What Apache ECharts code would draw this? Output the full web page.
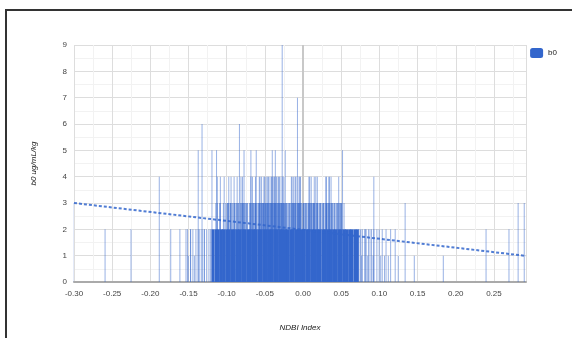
<!DOCTYPE html>
<html>
<head>
<meta charset="utf-8">
<script src="https://cdn.jsdelivr.net/npm/echarts@6/dist/echarts.min.js"></script>
<style>
html, body { margin: 0; padding: 0; background: #fff; }
#wrap { position: relative; width: 572px; height: 338px; overflow: hidden; }
#chart { width: 572px; height: 338px; }
#frame {
    position: absolute; left: 5px; top: 9px; width: 620px; height: 400px;
    border: 2px solid #333; pointer-events: none;
}
</style>
</head>
<body>
<div id="wrap">
    <div id="chart"></div>
    <div id="frame"></div>
</div>
<script>
// bars of the solid core (all at b0 = 2)
var coreX = [-0.118, -0.114, -0.111, -0.107, -0.104, -0.100, -0.097, -0.093, -0.090, -0.086,
    -0.083, -0.079, -0.076, -0.072, -0.069, -0.065, -0.062, -0.058, -0.055, -0.051,
    -0.048, -0.044, -0.041, -0.037, -0.034, -0.030, -0.027, -0.023, -0.020, -0.016,
    -0.013, -0.009, -0.006, -0.002, 0.001, 0.005, 0.008, 0.012, 0.015, 0.019,
    0.022, 0.026, 0.029, 0.033, 0.036, 0.040, 0.043, 0.047, 0.050, 0.054,
    0.057, 0.061, 0.064, 0.068, 0.071];

// close-packed bars at b0 = 3
var core3X = [-0.098, -0.094, -0.089, -0.085, -0.080, -0.077, -0.073, -0.068, -0.064, -0.061,
    -0.057, -0.054, -0.051, -0.048, -0.045, -0.042, -0.039, -0.036, -0.033, -0.030,
    -0.027, -0.024, -0.021, -0.017, -0.013, -0.010, -0.006, -0.003, 0.001, 0.004,
    0.008, 0.012, 0.015, 0.019, 0.023, 0.027, 0.031, 0.034, 0.038, 0.042, 0.046, 0.050];

// single bars, grouped by their b0 value
var x1 = [-0.149, -0.141, 0.062, 0.070, 0.078, 0.086, 0.093, 0.103, 0.108, 0.113, 0.126, 0.147, 0.185];
var x2 = [-0.258, -0.224, -0.172, -0.160, -0.152, -0.150, -0.146, -0.146, -0.143, -0.139, -0.136,
    -0.134, -0.131, -0.128, -0.128, -0.125, -0.122, -0.120,
    0.074, 0.076, 0.077, 0.079, 0.082, 0.083, 0.084, 0.087, 0.089,
    0.091, 0.094, 0.098, 0.101, 0.105, 0.110, 0.116, 0.122, 0.241, 0.271];
var x3 = [-0.300, -0.113, -0.111, -0.108, -0.107, -0.103, -0.100, -0.098, -0.096, -0.094,
    -0.091, -0.089, -0.086, -0.083, -0.081, -0.078, -0.076, -0.074, -0.072, -0.069,
    -0.067, -0.065, -0.063, -0.061, -0.058, -0.056, -0.054, -0.052, -0.051, -0.050,
    -0.048, -0.046, -0.045, -0.043, -0.041, -0.040, -0.038, -0.036, -0.035, -0.033,
    -0.031, -0.030, -0.028, -0.027, -0.025, -0.024, -0.022, -0.020, -0.018, -0.016,
    -0.014, -0.012, -0.011, -0.009, -0.007, -0.005, -0.004, -0.003, -0.001, 0.002,
    0.004, 0.006, 0.008, 0.010, 0.011, 0.013, 0.015, 0.016, 0.018, 0.020, 0.022,
    0.024, 0.026, 0.028, 0.030, 0.032, 0.034, 0.036, 0.038, 0.040, 0.042, 0.045,
    0.047, 0.049, 0.051, 0.052, 0.055, 0.135, 0.283, 0.291];
var x4 = [-0.187, -0.111, -0.107, -0.102, -0.096, -0.093, -0.089, -0.085, -0.080, -0.078,
    -0.067, -0.065, -0.061, -0.056, -0.055, -0.053, -0.050, -0.049, -0.047, -0.045,
    -0.044, -0.042, -0.040, -0.039, -0.037, -0.036, -0.034, -0.033, -0.031, -0.030,
    -0.029, -0.026, -0.024, -0.014, -0.013, -0.011, -0.009, -0.008, -0.004, -0.003,
    -0.002, 0.009, 0.010, 0.012, 0.016, 0.018, 0.020, 0.031, 0.032, 0.035, 0.036,
    0.038, 0.048, 0.094];
var x5 = [-0.136, -0.118, -0.112, -0.076, -0.067, -0.060, -0.039, -0.035, -0.022, 0.053];
var x6 = [-0.131, -0.082];
var x7 = [-0.006];
var x9 = [-0.026];

// trend line end points
var trendX = [-0.300, 0.292];
var trendY = [3.0, 0.99];

var blue = '#3366cc';

var coreData = coreX.map(function (x) { return [x, 2]; });
var core3Data = core3X.map(function (x) { return [x, 3]; });
var barData = [];
[[x1, 1], [x2, 2], [x3, 3], [x4, 4], [x5, 5], [x6, 6], [x7, 7], [x9, 9]].forEach(function (g) {
    g[0].forEach(function (x) { barData.push([x, g[1]]); });
});
var trendData = trendX.map(function (x, i) { return [x, trendY[i]]; });

var myChart = echarts.init(document.getElementById('chart'));
var option = {
    animation: false,
    textStyle: { fontFamily: 'Liberation Sans, Arial, sans-serif' },
    legend: {
        data: ['b0'],
        right: 10,
        top: 43,
        itemWidth: 13,
        itemHeight: 10,
        itemGap: 4,
        itemStyle: { opacity: 1 },
        textStyle: { fontSize: 8, color: '#222' }
    },
    grid: { left: 74, right: 46, top: 45, bottom: 56 },
    xAxis: {
        type: 'value',
        min: -0.30,
        max: 0.292,
        interval: 0.05,
        name: 'NDBI Index',
        nameLocation: 'middle',
        nameGap: 42,
        nameTextStyle: { fontSize: 8, fontStyle: 'italic', color: '#222' },
        axisLine: { show: true, onZero: false, lineStyle: { color: '#aaa', width: 2 } },
        axisTick: { show: false },
        axisLabel: {
            fontSize: 8, color: '#444', margin: 8, showMaxLabel: false,
            formatter: function (v) { return v.toFixed(2); }
        },
        splitLine: { lineStyle: { color: '#ddd' } },
        minorTick: { show: false, splitNumber: 2 },
        minorSplitLine: { show: true, lineStyle: { color: '#f2f2f2' } }
    },
    yAxis: {
        type: 'value',
        min: 0,
        max: 9,
        interval: 1,
        name: 'b0 ug/mL/kg',
        nameLocation: 'middle',
        nameGap: 36,
        nameTextStyle: { fontSize: 8, fontStyle: 'italic', color: '#222' },
        axisLine: { show: false },
        axisTick: { show: false },
        axisLabel: { fontSize: 8, color: '#444', margin: 7 },
        splitLine: { lineStyle: { color: '#ddd' } },
        minorTick: { show: false, splitNumber: 2 },
        minorSplitLine: { show: true, lineStyle: { color: '#f2f2f2' } }
    },
    series: [
        {
            name: 'baseline',
            type: 'line',
            data: [],
            z: 1,
            markLine: {
                silent: true,
                z: 1,
                symbol: 'none',
                label: { show: false },
                lineStyle: { color: '#c8c8c8', type: 'solid', width: 2 },
                data: [{ xAxis: 0 }]
            }
        },
        {
            name: 'b0',
            type: 'bar',
            data: barData,
            barWidth: 1,
            barGap: '-100%',
            itemStyle: { color: blue, opacity: 0.5 }
        },
        {
            name: 'b0',
            type: 'bar',
            data: core3Data,
            barWidth: 2,
            barGap: '-100%',
            itemStyle: { color: blue, opacity: 0.55 }
        },
        {
            name: 'b0',
            type: 'bar',
            data: coreData,
            barWidth: 3,
            barGap: '-100%',
            itemStyle: { color: blue }
        },
        {
            name: 'trend',
            type: 'line',
            data: trendData,
            symbol: 'none',
            lineStyle: { color: blue, width: 2, type: [3, 2], opacity: 0.85 },
            z: 5
        }
    ]
};
myChart.setOption(option);
window.addEventListener('resize', function () {
    myChart.resize();
});
</script>
</body>
</html>
